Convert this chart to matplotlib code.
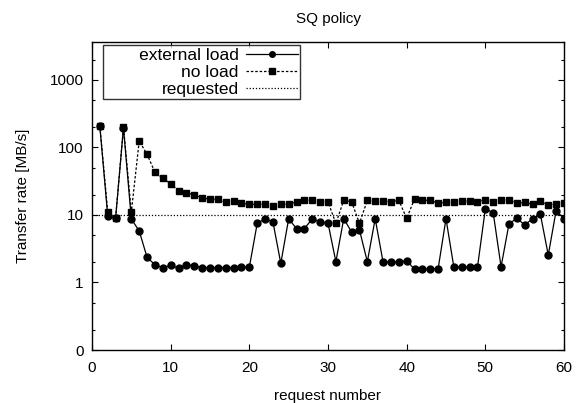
import numpy as np
import matplotlib
matplotlib.use('Agg')
import matplotlib.pyplot as plt
from matplotlib.ticker import FixedLocator, FixedFormatter

plt.rcParams['font.family'] = ['Liberation Sans', 'DejaVu Sans']

# request numbers 1..60
request = np.arange(1, 61)

# external load (circles, solid line)
external = [205, 9.7, 9.0, 196, 8.7, 5.8, 2.36, 1.83, 1.66, 1.8,
            1.62, 1.83, 1.77, 1.65, 1.65, 1.65, 1.66, 1.66, 1.68, 1.68,
            7.5, 8.8, 7.9, 1.92, 8.8, 6.27, 6.27, 8.8, 7.9, 7.6,
            2.03, 8.8, 5.6, 6.0, 2.03, 8.8, 2.01, 2.01, 2.01, 2.1,
            1.57, 1.57, 1.57, 1.6, 8.8, 1.68, 1.68, 1.68, 1.68, 12.3,
            10.8, 1.71, 7.3, 9.0, 7.1, 8.8, 10.2, 2.55, 11.6, 8.8]

# no load (squares, dashed line)
noload = [205, 11.2, 9.0, 200, 11.0, 125, 79, 43, 35, 29,
          22.7, 21.4, 19.8, 17.9, 17.1, 17.1, 15.4, 15.9, 14.9, 14.4,
          14.4, 14.4, 13.6, 14.4, 14.4, 15.7, 16.5, 16.5, 15.7, 15.7,
          7.5, 16.5, 15.7, 7.5, 16.5, 16.1, 16.1, 15.7, 16.5, 8.9,
          17.3, 16.5, 16.5, 14.9, 15.4, 15.4, 16.1, 16.1, 15.7, 16.7,
          15.7, 16.7, 16.7, 14.9, 15.4, 14.4, 16.1, 14.1, 14.4, 14.9]

requested = 10

fig = plt.figure(figsize=(5.76, 4.03), dpi=100)
ax = fig.add_axes([92/576, 1-350/403, 472/576, 308/403])

# leading spaces widen the legend box on the left like gnuplot does
ax.plot(request, external, '-', color='black', lw=0.9, marker='o', ms=5,
        label='       external load')
ax.plot(request, noload, color='black', lw=0.9, ls=(0, (2, 1.5)), marker='s', ms=5,
        label='no load')
ax.plot([0, 60], [requested, requested], color='black', lw=0.9, ls=(0, (1, 1.5)),
        label='requested')

ax.set_yscale('log')
ax.set_xlim(0, 60)
ax.set_ylim(0.1, 3650)

ax.xaxis.set_major_locator(FixedLocator(range(0, 61, 10)))
ax.yaxis.set_major_locator(FixedLocator([0.1, 1, 10, 100, 1000]))
ax.yaxis.set_major_formatter(FixedFormatter(['0', '1', '10', '100', '1000']))
minors = [m * 10.0**e for e in range(-1, 4) for m in (2, 5)]
ax.yaxis.set_minor_locator(FixedLocator(minors))
ax.yaxis.set_minor_formatter(FixedFormatter([''] * len(minors)))

ax.tick_params(which='both', direction='in', top=True, right=True, labelsize=11,
               width=0.8, color='black')
ax.tick_params(which='major', length=4, pad=6)
ax.tick_params(axis='x', which='major', pad=8)
ax.tick_params(which='minor', length=2.5)
for s in ax.spines.values():
    s.set_linewidth(1.0)

ax.set_xlabel('request number', fontsize=11, labelpad=10)
ax.set_ylabel('Transfer rate [MB/s]', fontsize=11, labelpad=14)
ax.set_title('SQ policy', fontsize=11, pad=14)

leg = ax.legend(loc='upper left', bbox_to_anchor=(0.0227, 0.989), markerfirst=False,
                fontsize=12.5, frameon=True, fancybox=False, edgecolor='black',
                handlelength=3.0, handletextpad=0.4, labelspacing=0.12,
                borderpad=0.12, borderaxespad=0, markerscale=0.8)
leg.get_frame().set_linewidth(1.0)

fig.savefig('out.png', dpi=100)
